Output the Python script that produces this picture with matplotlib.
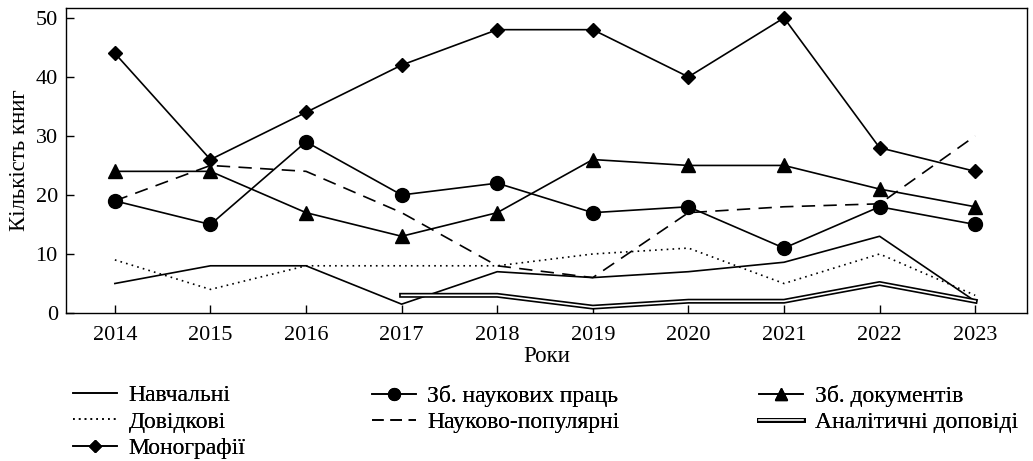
import matplotlib
matplotlib.use("Agg")
import matplotlib.pyplot as plt
import matplotlib.patheffects as pe
from matplotlib.lines import Line2D

plt.rcParams['font.family'] = ['Liberation Serif', 'DejaVu Serif']

years = [2014, 2015, 2016, 2017, 2018, 2019, 2020, 2021, 2022, 2023]
navchalni = [5, 8, 8, 1.5, 7, 6, 7, 8.6, 13, 2]
dovidkovi = [9, 4, 8, 8, 8, 10, 11, 5, 10, 3]
monografii = [44, 26, 34, 42, 48, 48, 40, 50, 28, 24]
zb_naukovykh = [19, 15, 29, 20, 22, 17, 18, 11, 18, 15]
naukovo_pop = [19, 25, 24, 17, 8, 6, 17, 18, 18.5, 30]
zb_dokumentiv = [24, 24, 17, 13, 17, 26, 25, 25, 21, 18]
analit_years = [2017, 2018, 2019, 2020, 2021, 2022, 2023]
analit = [3, 3, 1, 2, 2, 5, 2]

labels = ["Навчальні", "Довідкові", "Монографії", "Зб. наукових праць",
          "Науково-популярні", "Зб. документів", "Аналітичні доповіді"]

fig = plt.figure(figsize=(10.33, 4.61), dpi=100)
ax = fig.add_axes([0.064, 0.321, 0.930, 0.662])

lw = 1.2
k = 'black'
h1, = ax.plot(years, navchalni, color=k, lw=lw)
h2, = ax.plot(years, dovidkovi, color=k, lw=lw, ls=(0, (1, 2.5)))
h3, = ax.plot(years, monografii, color=k, lw=lw, marker='D', ms=7.5)
h4, = ax.plot(years, zb_naukovykh, color=k, lw=lw, marker='o', ms=10)
h5, = ax.plot(years, naukovo_pop, color=k, lw=lw, ls=(0, (8, 5)))
h6, = ax.plot(years, zb_dokumentiv, color=k, lw=lw, marker='^', ms=10)
dbl_fx = [pe.Stroke(linewidth=3.6, foreground='black'), pe.Normal()]
h7, = ax.plot(analit_years, analit, color='white', lw=1.2, path_effects=dbl_fx)

ax.set_xlim(2013.49, 2023.54)
ax.set_ylim(0, 51.7)
ax.set_xticks(years)
ax.set_yticks([0, 10, 20, 30, 40, 50])
ax.tick_params(direction='in', length=6, width=1, labelsize=16)
ax.tick_params(axis='x', pad=9)
ax.tick_params(axis='y', pad=6)
for s in ax.spines.values():
    s.set_linewidth(1)
ax.set_xlabel("Роки", fontsize=16.5, labelpad=1)
ax.set_ylabel("Кількість книг", fontsize=16.5, labelpad=4)

# legend handles with smaller markers
def lh(**kw):
    return Line2D([], [], color=k, lw=lw, **kw)

lg1 = lh()
lg2 = lh(ls=(0, (1, 2.5)))
lg3 = lh(marker='D', ms=6)
lg4 = lh(marker='o', ms=8.5)
lg5 = lh(ls=(0, (7, 4)))
lg6 = lh(marker='^', ms=8.5)
lg7 = Line2D([], [], color='white', lw=1.2, path_effects=dbl_fx)

cols = [([lg1, lg2, lg3], labels[0:3], 0.0705),
        ([lg4, lg5], labels[3:5], 0.360),
        ([lg6, lg7], labels[5:7], 0.735)]
for hs, ls_, x0 in cols:
    leg = fig.legend(hs, ls_, ncol=1, loc='upper left', bbox_to_anchor=(x0, 0.165),
                     frameon=False, fontsize=17, handlelength=1.85, handletextpad=0.5,
                     labelspacing=0.2, borderaxespad=0, borderpad=0)
    fig.add_artist(leg)

fig.savefig("out.png", dpi=100)
